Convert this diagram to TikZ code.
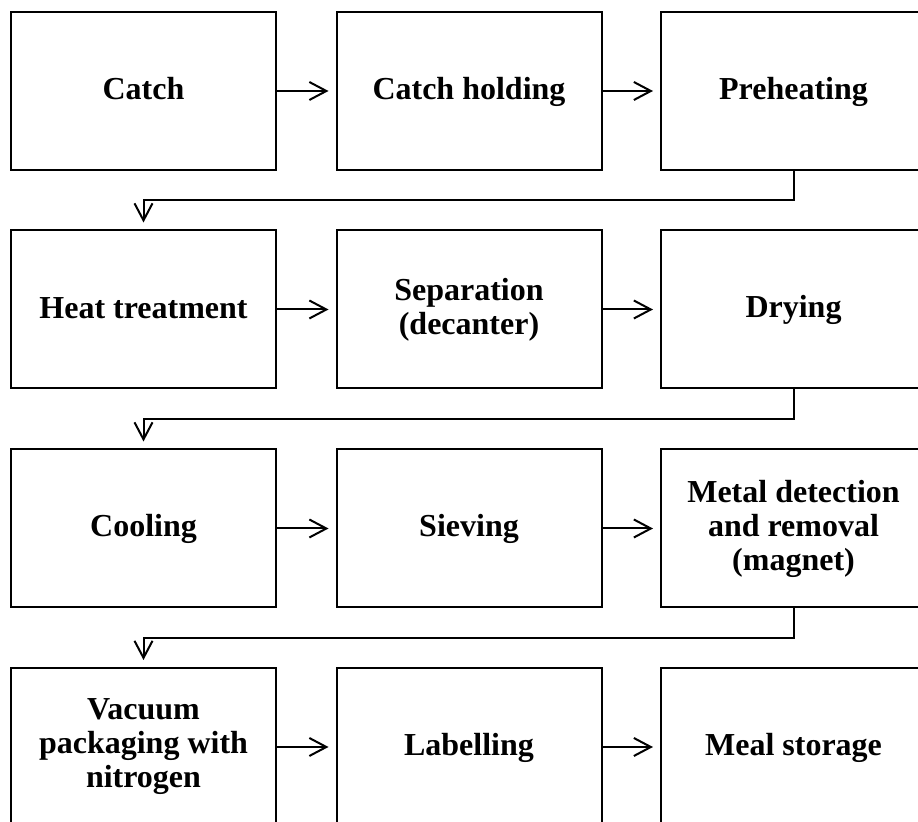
\documentclass[tikz,border=0pt]{standalone}
\usepackage{fontspec}
\setmainfont{Liberation Serif}
\usepackage{tikz}
\usetikzlibrary{arrows.meta, calc}

\begin{document}
\begin{tikzpicture}[
  x=0.5pt, y=-0.5pt,
  stepbox/.style={
    draw=black, line width=1pt, fill=white,
    minimum width=132.5pt, minimum height=79pt,
    align=center, inner sep=2pt,
    font=\fontsize{16}{17}\selectfont\bfseries,
    execute at begin node=\rule{0pt}{12pt},
    execute at end node=\rule[-3pt]{0pt}{3pt}
  },
  connector/.style={
    -{Straight Barb[length=8.5pt, width=9pt, line width=1pt]},
    line width=1pt, shorten >=3.5pt
  }
]
\useasboundingbox (0,0) rectangle (918,822);
\clip (0,0) rectangle (918,822);

% First row
\node[stepbox] (catch) at (143.5, 91) {Catch};
\node[stepbox] (holding) at (469, 91) {Catch holding};
\node[stepbox] (preheat) at (793.5, 91) {Preheating};

% Second row
\node[stepbox] (heat) at (143.5, 309.5) {Heat treatment};
\node[stepbox] (separation) at (469, 309.5) {Separation\\(decanter)};
\node[stepbox] (drying) at (793.5, 309.5) {Drying};

% Third row
\node[stepbox] (cooling) at (143.5, 528.5) {Cooling};
\node[stepbox] (sieving) at (469, 528.5) {Sieving};
\node[stepbox] (metal) at (793.5, 528.5) {Metal detection\\and removal\\(magnet)};

% Fourth row
\node[stepbox] (vacuum) at (143.5, 747) {Vacuum\\packaging with\\nitrogen};
\node[stepbox] (labelling) at (469, 747) {Labelling};
\node[stepbox] (storage) at (793.5, 747) {Meal storage};

% Connections
\draw[connector] (catch) -- (holding);
\draw[connector] (holding) -- (preheat);
\draw[connector] (preheat.south) -- ++(0,29.5) -| (heat.north);
\draw[connector] (heat) -- (separation);
\draw[connector] (separation) -- (drying);
\draw[connector] (drying.south) -- ++(0,29.5) -| (cooling.north);
\draw[connector] (cooling) -- (sieving);
\draw[connector] (sieving) -- (metal);
\draw[connector] (metal.south) -- ++(0,30) -| (vacuum.north);
\draw[connector] (vacuum) -- (labelling);
\draw[connector] (labelling) -- (storage);

\end{tikzpicture}
\end{document}
